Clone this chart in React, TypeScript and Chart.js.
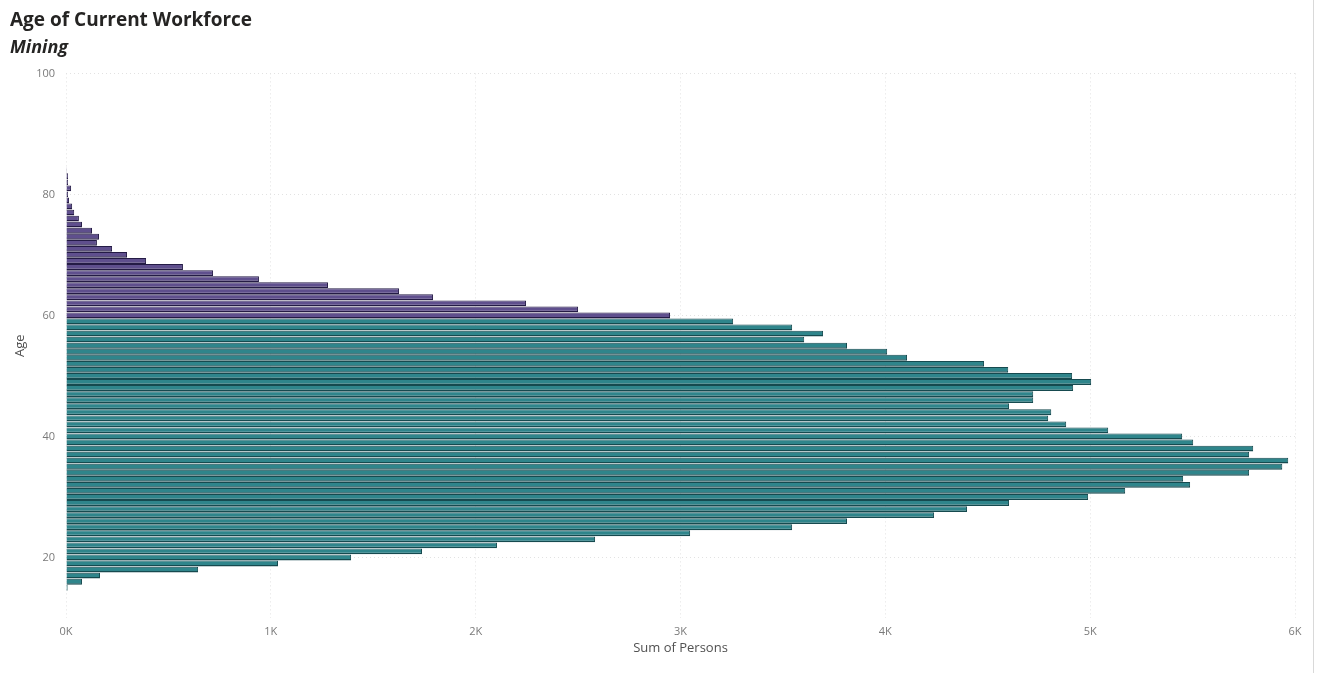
import React, { useEffect, useRef } from 'react';
import { Chart, registerables } from 'chart.js';

Chart.register(...registerables);

const TITLE = 'Age of Current Workforce';
const SUBTITLE = 'Mining';
const X_TITLE = 'Sum of Persons';
const Y_TITLE = 'Age';

const ages = [
  15, 16, 17, 18, 19, 20, 21, 22, 23, 24, 25, 26, 27, 28, 29, 30, 31, 32, 33, 34,
  35, 36, 37, 38, 39, 40, 41, 42, 43, 44, 45, 46, 47, 48, 49, 50, 51, 52, 53, 54,
  55, 56, 57, 58, 59, 60, 61, 62, 63, 64, 65, 66, 67, 68, 69, 70, 71, 72, 73, 74,
  75, 76, 77, 78, 79, 80, 81, 82, 83, 84, 85, 86, 87, 88, 89, 90,
];

const persons = [
  8, 78, 166, 645, 1035, 1392, 1738, 2104, 2583, 3047, 3545, 3813, 4238, 4399, 4604, 4990, 5171, 5488, 5454, 5776,
  5938, 5967, 5776, 5796, 5503, 5449, 5088, 4883, 4795, 4810, 4604, 4722, 4722, 4917, 5005, 4912, 4600, 4482, 4106, 4009,
  3813, 3604, 3696, 3545, 3257, 2949, 2500, 2246, 1792, 1626, 1279, 942, 718, 571, 391, 298, 225, 151, 161, 127,
  78, 63, 40, 30, 15, 10, 25, 10, 10, 4, 0, 0, 0, 0, 0, 3,
];

const RETIREMENT_AGE = 60;

const X_MIN = 0;
const X_MAX = 6000;
const X_STEP = 1000;
const Y_MIN = 10;
const Y_MAX = 100;
const Y_STEP = 20;

const TEAL_FILL = '#2f858b';
const TEAL_EDGE = '#164a4f';
const PURPLE_FILL = '#5f4f8d';
const PURPLE_EDGE = '#241b45';

export default function App() {
  const canvasRef = useRef<HTMLCanvasElement | null>(null);

  useEffect(() => {
    const canvas = canvasRef.current;
    if (!canvas) return;

    const points = ages.map((a, i) => ({ x: persons[i], y: a }));
    const fills = ages.map((a) => (a >= RETIREMENT_AGE ? PURPLE_FILL : TEAL_FILL));
    const edges = ages.map((a) => (a >= RETIREMENT_AGE ? PURPLE_EDGE : TEAL_EDGE));

    const chart = new Chart(canvas, {
      type: 'bar',
      data: {
        datasets: [
          {
            label: X_TITLE,
            data: points,
            backgroundColor: fills,
            borderColor: edges,
            borderWidth: { top: 1, bottom: 1.5, right: 1, left: 0 },
            borderSkipped: 'start',
            barPercentage: 0.97,
            categoryPercentage: 1,
          },
        ],
      },
      options: {
        indexAxis: 'y',
        responsive: false,
        animation: false,
        devicePixelRatio: 1,
        layout: { padding: { left: 10, right: 27, top: 0, bottom: 0 } },
        plugins: {
          legend: { display: false },
          tooltip: { enabled: false },
          title: {
            display: true,
            text: TITLE,
            align: 'start',
            color: '#252423',
            font: { family: "'Open Sans', 'Liberation Sans', sans-serif", size: 19, weight: 'bold' },
            padding: { top: 9, bottom: 3 },
          },
          subtitle: {
            display: true,
            text: SUBTITLE,
            align: 'start',
            color: '#252423',
            font: { family: "'Open Sans', 'Liberation Sans', sans-serif", size: 18, weight: 'bold', style: 'italic' },
            padding: { top: 2, bottom: 15 },
          },
        },
        scales: {
          x: {
            type: 'linear',
            min: X_MIN,
            max: X_MAX,
            offset: false,
            ticks: {
              stepSize: X_STEP,
              padding: 7,
              color: '#7a7a7a',
              font: { family: "'Open Sans', sans-serif", size: 11 },
              callback: (v: any) => `${Number(v) / 1000}K`,
            },
            grid: {
              color: '#e2e2e2',
              lineWidth: 1,
              drawTicks: false,
              offset: false,
            },
            border: { display: false, dash: [1, 3] },
            title: {
              display: true,
              text: X_TITLE,
              color: '#505050',
              font: { family: "'Open Sans', sans-serif", size: 13 },
              padding: { top: 0, bottom: 17 },
            },
            afterFit: (scale: any) => {
              scale.height = 55;
            },
          },
          y: {
            type: 'linear',
            min: Y_MIN,
            max: Y_MAX,
            offset: false,
            afterBuildTicks: (scale: any) => {
              scale.ticks = scale.ticks.filter((t: any) => t.value % Y_STEP === 0);
            },
            ticks: {
              stepSize: Y_STEP,
              padding: 11,
              color: '#7a7a7a',
              font: { family: "'Open Sans', sans-serif", size: 11 },
            },
            grid: {
              color: '#e2e2e2',
              lineWidth: 1,
              drawTicks: false,
              offset: false,
            },
            border: { display: false, dash: [1, 3] },
            title: {
              display: true,
              text: Y_TITLE,
              color: '#505050',
              font: { family: "'Open Sans', sans-serif", size: 13 },
              padding: { top: 2, bottom: 0 },
            },
            afterFit: (scale: any) => {
              scale.width = 56;
            },
          },
        },
      },
    });

    return () => {
      chart.destroy();
    };
  }, []);

  return (
    <div
      style={{
        position: 'fixed',
        left: 0,
        top: 0,
        width: 1322,
        height: 673,
        background: '#ffffff',
      }}
    >
      <canvas ref={canvasRef} width={1322} height={673} style={{ display: 'block' }} />
      <div
        style={{
          position: 'absolute',
          left: 1313,
          top: 0,
          width: 1,
          height: 673,
          background: '#d9d9d9',
        }}
      />
    </div>
  );
}
